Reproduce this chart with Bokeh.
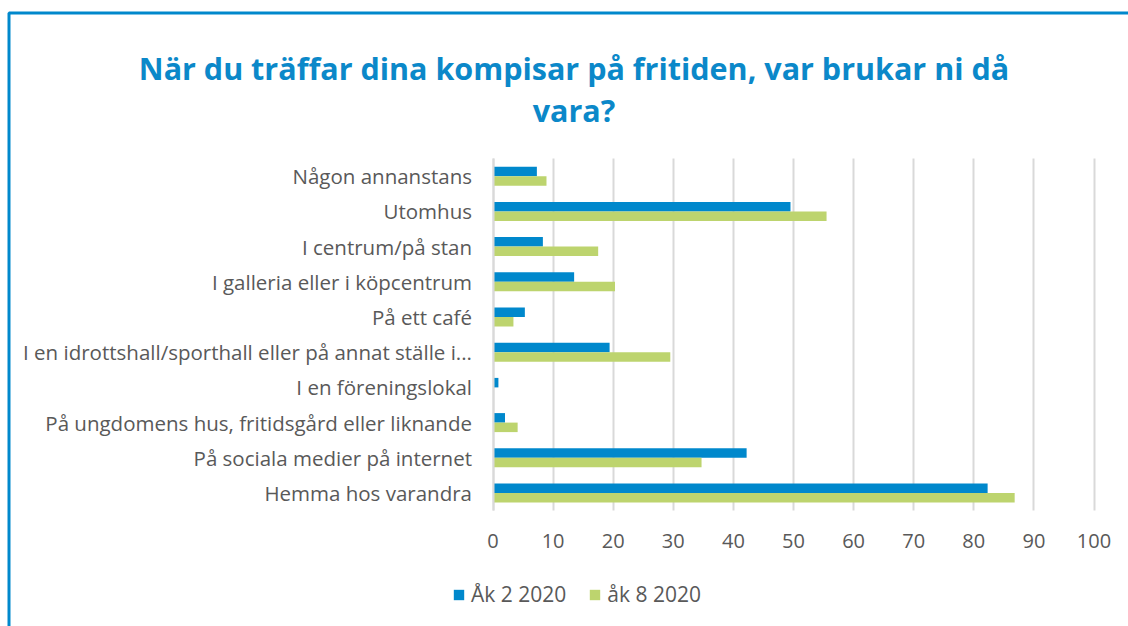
from bokeh.plotting import figure
from bokeh.models import (Range1d, Legend, LegendItem, ColumnDataSource, Label,
                          LinearAxis, FixedTicker, Grid, BoxAnnotation)
from bokeh.transform import dodge
from bokeh.embed import file_html
from bokeh.resources import INLINE

categories = [
    "Någon annanstans",
    "Utomhus",
    "I centrum/på stan",
    "I galleria eller i köpcentrum",
    "På ett café",
    "I en idrottshall/sporthall eller på annat ställe i...",
    "I en föreningslokal",
    "På ungdomens hus, fritidsgård eller liknande",
    "På sociala medier på internet",
    "Hemma hos varandra",
]
ak2_2020 = [7.3, 49.5, 8.3, 13.5, 5.3, 19.4, 0.9, 2.0, 42.2, 82.3]
ak8_2020 = [8.9, 55.5, 17.5, 20.3, 3.4, 29.5, 0.0, 4.1, 34.7, 86.8]
x_ticks = [0, 10, 20, 30, 40, 50, 60, 70, 80, 90, 100]
series_names = ["Åk 2 2020", "åk 8 2020"]
title_lines = ["När du träffar dina kompisar på fritiden, var brukar ni då", "vara?"]

BLUE = "#0088cc"
TITLE_BLUE = "#0b88c9"
GREEN = "#bdd46e"
GREY_TEXT = "#595959"
GRID = "#d9d9d9"
FONT = "Open Sans"

# ---- layout: the frame is the whole canvas; pixel <-> data helpers ----
W, H = 1128, 626
X0, SX = 492.5, 6.01     # pixel x of value 0, pixels per unit
Y0, SY = 492.5, 35.2     # pixel y of the bottom category row, pixels per row
def px_x(px):
    return (px - X0) / SX
def px_y(py):
    return (Y0 - py) / SY

n = len(categories)
rows = [n - 1 - i for i in range(n)]   # first category on top
src = ColumnDataSource(dict(row=rows, a=ak2_2020, b=ak8_2020))

p = figure(
    width=W, height=H,
    x_range=Range1d(px_x(0), px_x(W)),
    y_range=Range1d(px_y(H), px_y(0)),
    output_backend="svg", toolbar_location=None, title_location=None,
    x_axis_location=None, y_axis_location=None,
    min_border=0, min_border_left=0, min_border_right=0,
    min_border_top=0, min_border_bottom=0,
)
p.outline_line_color = None
for g in p.grid:
    g.visible = False

grid = Grid(dimension=0, ticker=FixedTicker(ticks=x_ticks), cross_bounds=(-0.5, n - 0.5),
            grid_line_color=GRID, grid_line_width=2)
p.add_layout(grid)

r1 = p.hbar(y=dodge("row", 0.135), right="a", left=0, height=0.27,
            source=src, fill_color=BLUE, line_color=None)
r2 = p.hbar(y=dodge("row", -0.135), right="b", left=0, height=0.27,
            source=src, fill_color=GREEN, line_color=None)

xaxis = LinearAxis(ticker=FixedTicker(ticks=x_ticks), fixed_location=-0.5, bounds=(0, 100))
xaxis.axis_line_color = None
xaxis.major_tick_line_color = None
xaxis.minor_tick_line_color = None
xaxis.major_label_standoff = 17
xaxis.major_label_text_font = FONT
xaxis.major_label_text_font_size = "20px"
xaxis.major_label_text_color = GREY_TEXT
p.add_layout(xaxis, "below")

yaxis = LinearAxis(ticker=FixedTicker(ticks=rows), fixed_location=0, bounds=(-0.5, n - 0.5),
                   major_label_overrides={r: c for r, c in zip(rows, categories)})
yaxis.axis_line_color = GRID
yaxis.axis_line_width = 2
yaxis.major_tick_line_color = None
yaxis.minor_tick_line_color = None
yaxis.major_label_standoff = 15
yaxis.major_label_text_font = FONT
yaxis.major_label_text_font_size = "20.5px"
yaxis.major_label_text_color = GREY_TEXT
p.add_layout(yaxis, "left")

# title, two centred lines
for line, base in zip(title_lines, [67, 109]):
    p.add_layout(Label(x=px_x(573.5), y=px_y(base), text=line,
                       text_align="center", text_baseline="alphabetic",
                       text_font=FONT, text_font_style="bold", text_font_size="30.5px",
                       text_color=TITLE_BLUE))

# chart-area border (top and left edges visible)
p.add_layout(BoxAnnotation(left=px_x(8.5), right=px_x(W + 20), top=px_y(12.5),
                           bottom=px_y(H + 20), fill_color=None, fill_alpha=0,
                           line_color=BLUE, line_alpha=1.0, line_width=3))

legend = Legend(items=[LegendItem(label=series_names[0], renderers=[r1]),
                       LegendItem(label=series_names[1], renderers=[r2])],
                location=(452, 18), orientation="horizontal",
                glyph_width=13, glyph_height=13, label_standoff=6, spacing=22,
                padding=0, margin=0, border_line_color=None, background_fill_alpha=0,
                label_text_font=FONT, label_text_font_size="21px", label_text_color=GREY_TEXT)
p.add_layout(legend, "center")

open("out.html", "w").write(file_html(p, INLINE))
